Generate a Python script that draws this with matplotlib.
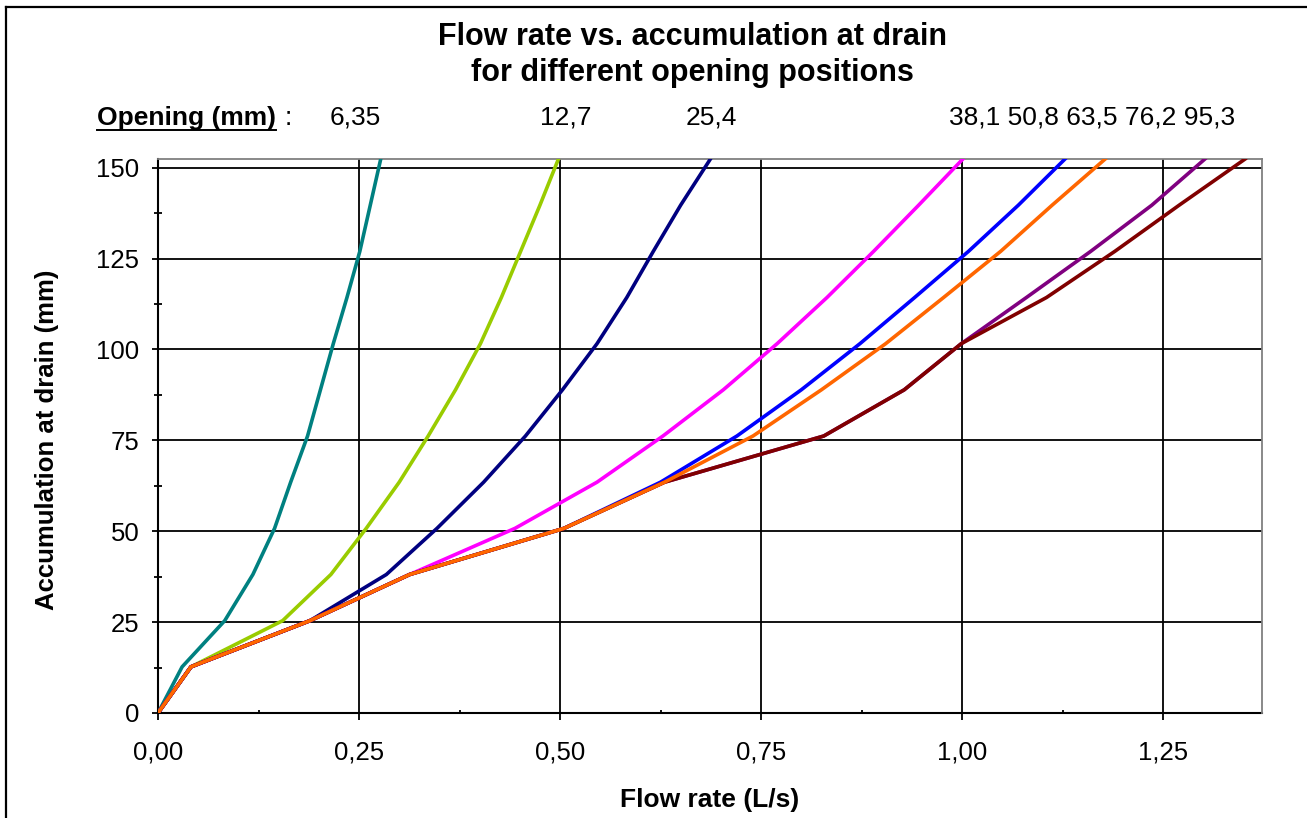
# coding: utf-8
import matplotlib
matplotlib.use("Agg")
import matplotlib.pyplot as plt
from matplotlib.lines import Line2D
from matplotlib.ticker import MultipleLocator, FuncFormatter

plt.rcParams['font.family'] = ['Liberation Sans', 'DejaVu Sans']

# accumulation at drain (mm), one point every half inch
depth = [0, 12.7, 25.4, 38.1, 50.8, 63.5, 76.2, 88.9, 101.6, 114.3, 127.0, 139.7, 152.4]

# flow rate (L/s) for each opening
flow_6_35 = [0, 0.030, 0.083, 0.118, 0.145, 0.165, 0.186, 0.202, 0.218, 0.235, 0.251, 0.264, 0.277]
flow_12_7 = [0, 0.041, 0.155, 0.215, 0.259, 0.300, 0.336, 0.370, 0.401, 0.427, 0.451, 0.475, 0.498]
flow_25_4 = [0, 0.041, 0.189, 0.284, 0.347, 0.405, 0.457, 0.503, 0.546, 0.583, 0.616, 0.650, 0.687]
flow_38_1 = [0, 0.041, 0.189, 0.313, 0.444, 0.546, 0.628, 0.703, 0.770, 0.832, 0.890, 0.946, 1.001]
flow_50_8 = [0, 0.041, 0.189, 0.313, 0.505, 0.625, 0.720, 0.800, 0.873, 0.941, 1.008, 1.070, 1.128]
flow_63_5 = [0, 0.041, 0.189, 0.313, 0.505, 0.630, 0.740, 0.825, 0.905, 0.977, 1.048, 1.112, 1.178]
flow_76_2 = [0, 0.041, 0.189, 0.313, 0.505, 0.630, 0.828, 0.928, 0.999, 1.080, 1.160, 1.236, 1.302]
flow_95_3 = [0, 0.041, 0.189, 0.313, 0.505, 0.630, 0.828, 0.928, 0.999, 1.105, 1.190, 1.270, 1.352]

openings = ["6,35", "12,7", "25,4", "38,1", "50,8", "63,5", "76,2", "95,3"]

# drawing order: orange last so it sits on top of the shared part
series = [
    (flow_6_35, "#008080"),
    (flow_12_7, "#99CC00"),
    (flow_25_4, "#000080"),
    (flow_38_1, "#FF00FF"),
    (flow_50_8, "#0000FF"),
    (flow_76_2, "#800080"),
    (flow_95_3, "#800000"),
    (flow_63_5, "#FF6600"),
]

W, H = 1307, 818
fig = plt.figure(figsize=(W / 100, H / 100), dpi=100)
ax = fig.add_axes([158 / W, 1 - 713 / H, (1262 - 158) / W, (713 - 159) / H])

for i, (flow, color) in enumerate(series):
    ax.plot(flow, depth, color=color, lw=2.6, solid_joinstyle="round", zorder=3 + i)

ax.set_xlim(0, 1.373)
ax.set_ylim(0, 152.4)

ax.xaxis.set_major_locator(MultipleLocator(0.25))
ax.xaxis.set_minor_locator(MultipleLocator(0.125))
ax.yaxis.set_major_locator(MultipleLocator(25))
ax.yaxis.set_minor_locator(MultipleLocator(12.5))
ax.xaxis.set_major_formatter(FuncFormatter(lambda v, p: ("%.2f" % v).replace(".", ",")))
ax.yaxis.set_major_formatter(FuncFormatter(lambda v, p: "%d" % v))

ax.grid(True, which="major", color="black", lw=1.3, zorder=1)
ax.set_axisbelow(True)

ax.tick_params(axis="y", which="major", direction="out", length=4.5, width=1.3,
               labelsize=18.5, pad=9)
ax.tick_params(axis="y", which="minor", direction="inout", length=5.5, width=1.3)
ax.tick_params(axis="x", which="major", direction="out", length=5, width=1.3,
               labelsize=18.5, pad=15)
ax.tick_params(axis="x", which="minor", direction="in", length=2.5, width=1.3)

for s in ["left", "bottom"]:
    ax.spines[s].set_color("black")
    ax.spines[s].set_linewidth(1.5)
    ax.spines[s].set_zorder(2)
for s in ["top", "right"]:
    ax.spines[s].set_color("#808080")
    ax.spines[s].set_linewidth(1.3)

# titles and axis labels
fig.text(692 / W, 1 - 37 / H, "Flow rate vs. accumulation at drain", ha="center", va="center",
         fontsize=22, fontweight="bold")
fig.text(692 / W, 1 - 73 / H, "for different opening positions", ha="center", va="center",
         fontsize=22, fontweight="bold")
fig.text(710 / W, 1 - 800 / H, "Flow rate (L/s)", ha="center", va="center",
         fontsize=19, fontweight="bold")
fig.text(47 / W, 1 - 440 / H, "Accumulation at drain (mm)", ha="center", va="center",
         rotation=90, fontsize=18.5, fontweight="bold")

# opening labels above the plot
lab = fig.text(97 / W, 1 - 118 / H, "Opening (mm)", ha="left", va="center",
               fontsize=19, fontweight="bold")
fig.text(285 / W, 1 - 118 / H, ":", ha="left", va="center", fontsize=19)
fig.text(355 / W, 1 - 118 / H, openings[0], ha="center", va="center", fontsize=19)
fig.text(566 / W, 1 - 118 / H, openings[1], ha="center", va="center", fontsize=19)
fig.text(711 / W, 1 - 118 / H, openings[2], ha="center", va="center", fontsize=19)
fig.text(949 / W, 1 - 118 / H, " ".join(openings[3:]), ha="left", va="center", fontsize=19)

# underline "Opening (mm)"
fig.canvas.draw()
bb = lab.get_window_extent(renderer=fig.canvas.get_renderer())
uy = 1 - 130 / H
fig.add_artist(Line2D([bb.x0 / W, bb.x1 / W], [uy, uy], color="black", lw=1.4))

# chart border (top and left visible)
fig.add_artist(Line2D([6 / W, 1], [1 - 7 / H, 1 - 7 / H], color="black", lw=1.6))
fig.add_artist(Line2D([6 / W, 6 / W], [0, 1 - 7 / H], color="black", lw=1.6))

fig.savefig("out.png", dpi=100)
